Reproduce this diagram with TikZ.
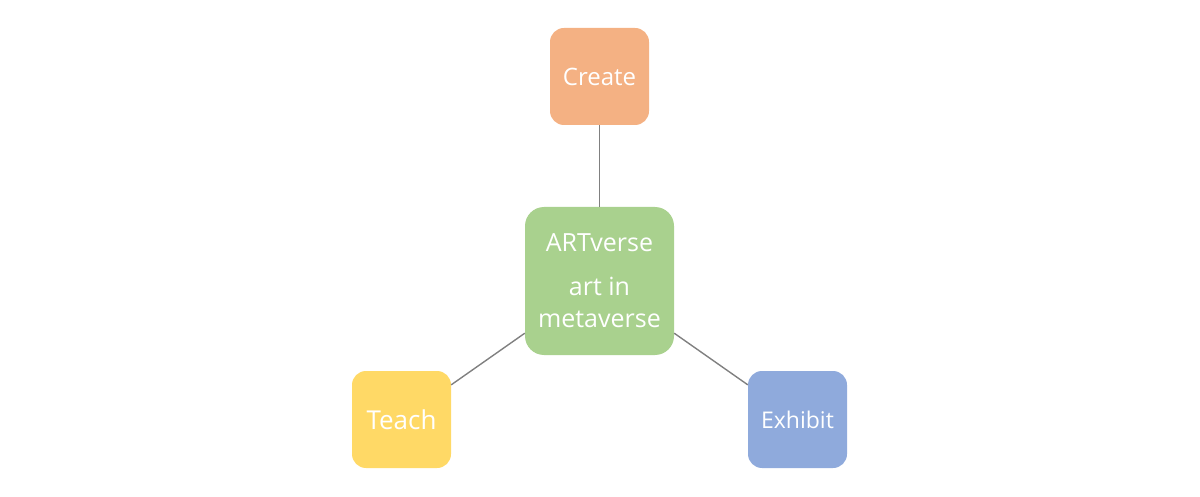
\documentclass[tikz,border=0pt]{standalone}
\usepackage{fontspec}
\setmainfont{Open Sans}
\usepackage{tikz}
\usetikzlibrary{positioning}
\definecolor{createorange}{HTML}{F4B183}
\definecolor{versegreen}{HTML}{A9D18E}
\definecolor{teachyellow}{HTML}{FFD966}
\definecolor{exhibitblue}{HTML}{8FAADC}
\definecolor{linkgray}{HTML}{808080}
\begin{document}
\begin{tikzpicture}[
    x=1pt, y=-1pt,
    leaf box/.style={
        rectangle, rounded corners=14pt, inner sep=0pt,
        minimum width=99pt, minimum height=97pt,
        text=white
    },
    hub box/.style={
        rectangle, rounded corners=19pt, inner sep=0pt,
        minimum width=149pt, minimum height=148pt,
        text=white, align=center,
        font=\fontsize{25}{32}\selectfont
    },
    link/.style={draw=linkgray, line width=1.4pt}
  ]
  \useasboundingbox (0,0) rectangle (1200,497);

  \node[hub box, fill=versegreen] (hub) at (599.5,281) {ARTverse\\[12pt]art in\\metaverse};

  \node[leaf box, fill=createorange, font=\fontsize{24}{30}\selectfont] (create) at (599.5,76.5) {Create};
  \node[leaf box, fill=teachyellow, font=\fontsize{26}{32}\selectfont] (teach) at (401.5,419.5) {Teach};
  \node[leaf box, fill=exhibitblue, font=\fontsize{23}{28}\selectfont] (exhibit) at (797.5,419.5) {Exhibit};

  \draw[link] (hub) -- (create);
  \draw[link] (hub) -- (teach);
  \draw[link] (hub) -- (exhibit);

\end{tikzpicture}
\end{document}
